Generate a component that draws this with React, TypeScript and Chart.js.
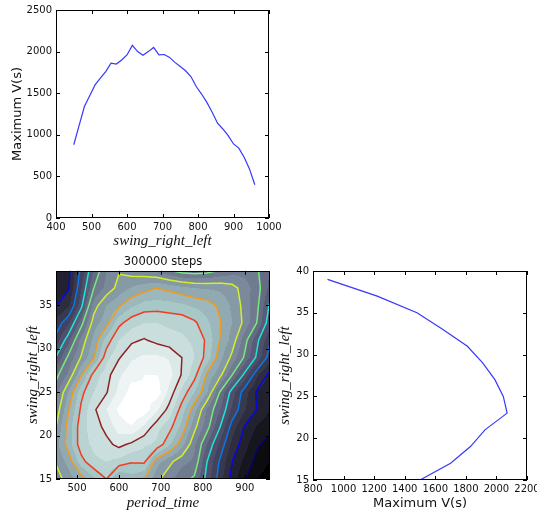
import React, { useEffect, useRef } from 'react';
import { Chart, registerables } from 'chart.js';

Chart.register(...registerables);

// ---------------- data ----------------
// top-left: maximum V(s) versus the x parameter
const topPeriod = [450, 465, 480, 495, 510, 525, 540, 555, 570, 585, 600, 615, 630, 645, 660, 675, 690, 705, 720, 735, 750, 765, 780, 795, 810, 825, 840, 855, 870, 885, 900, 915, 930, 945, 960];
const topMaxV = [880, 1110, 1340, 1470, 1600, 1680, 1760, 1860, 1850, 1900, 1960, 2075, 2000, 1955, 2000, 2050, 1960, 1965, 1930, 1870, 1820, 1770, 1700, 1580, 1490, 1390, 1270, 1140, 1070, 990, 890, 840, 730, 590, 400];

// bottom-right: maximum V(s) versus swing_right_left
const rightSwing = [15, 17, 19, 21, 23, 25, 27, 29, 31, 33, 35, 37, 39];
const rightMaxV = [1500, 1700, 1830, 1925, 2070, 2045, 1990, 1910, 1810, 1650, 1480, 1220, 895];

// bottom-left: V(s) grid (period_time columns x swing_right_left rows)
const gridPeriod = [450, 480, 510, 540, 570, 600, 630, 660, 690, 720, 750, 780, 810, 840, 870, 900, 930, 960];
const gridSwing = [15, 17, 19, 21, 23, 25, 27, 29, 31, 33, 35, 37, 39];
const z15 = [1150, 1250, 1350, 1480, 1600, 1380, 1460, 1400, 1230, 1130, 1040, 980, 760, 550, 360, 210, 100, 40];
const z17 = [1210, 1340, 1560, 1680, 1700, 1670, 1610, 1620, 1340, 1230, 1130, 1080, 800, 590, 400, 270, 160, 100];
const z19 = [1260, 1450, 1660, 1720, 1770, 1830, 1780, 1720, 1680, 1520, 1340, 1120, 900, 680, 470, 340, 215, 160];
const z21 = [1200, 1450, 1660, 1750, 1830, 1950, 1990, 1880, 1740, 1640, 1470, 1230, 1040, 810, 550, 390, 290, 230];
const z23 = [1130, 1390, 1620, 1780, 1900, 2020, 2090, 2060, 1920, 1760, 1550, 1340, 1090, 910, 680, 510, 390, 300];
const z25 = [1050, 1310, 1570, 1700, 1790, 1930, 2040, 2010, 2060, 1870, 1670, 1500, 1310, 1000, 750, 540, 380, 340];
const z27 = [970, 1120, 1390, 1640, 1760, 1880, 1970, 2000, 2000, 1940, 1790, 1640, 1380, 1240, 1000, 770, 520, 360];
const z29 = [810, 1030, 1210, 1390, 1660, 1790, 1880, 1920, 1920, 1890, 1800, 1700, 1560, 1340, 1170, 980, 770, 540];
const z31 = [640, 870, 1130, 1330, 1540, 1700, 1780, 1810, 1770, 1740, 1720, 1680, 1580, 1400, 1260, 1040, 820, 620];
const z33 = [530, 680, 960, 1250, 1360, 1570, 1660, 1700, 1700, 1680, 1670, 1620, 1520, 1410, 1300, 1170, 990, 720];
const z35 = [395, 480, 770, 1150, 1300, 1385, 1480, 1540, 1550, 1540, 1520, 1480, 1450, 1380, 1280, 1160, 1020, 780];
const z37 = [350, 390, 690, 1000, 1130, 1240, 1310, 1360, 1400, 1370, 1330, 1300, 1290, 1280, 1240, 1150, 1040, 870];
const z39 = [300, 370, 630, 910, 1100, 1190, 1150, 1120, 1080, 1010, 960, 940, 960, 1010, 1060, 1060, 1010, 900];
const zGrid = [z15, z17, z19, z21, z23, z25, z27, z29, z31, z33, z35, z37, z39];

const fillLevels = [0, 100, 200, 300, 400, 500, 600, 700, 800, 900, 1000, 1100, 1200, 1300, 1400, 1500, 1600, 1700, 1800, 1900, 2000, 2100];
const lineLevels = [200, 400, 600, 800, 1000, 1200, 1400, 1600, 1800];

// tick labels
const topXTicks = [400, 500, 600, 700, 800, 900, 1000];
const topYTicks = [0, 500, 1000, 1500, 2000, 2500];
const contourXTicks = [500, 600, 700, 800, 900];
const contourYTicks = [15, 20, 25, 30, 35];
const rightXTicks = [800, 1000, 1200, 1400, 1600, 1800, 2000, 2200];
const rightYTicks = [15, 20, 25, 30, 35, 40];

// ---------------- colour maps ----------------
type Seg = [number, number][];
const interpSeg = (seg: Seg, t: number) => {
  for (let i = 0; i < seg.length - 1; i++) {
    const [a, va] = seg[i];
    const [b, vb] = seg[i + 1];
    if (t <= b) return va + ((t - a) / (b - a)) * (vb - va);
  }
  return seg[seg.length - 1][1];
};
const boneR: Seg = [[0, 0], [0.746032, 0.652778], [1, 1]];
const boneG: Seg = [[0, 0], [0.365079, 0.319444], [0.746032, 0.777778], [1, 1]];
const boneB: Seg = [[0, 0], [0.365079, 0.444444], [1, 1]];
const jetR: Seg = [[0, 0], [0.35, 0], [0.66, 1], [0.89, 1], [1, 0.5]];
const jetG: Seg = [[0, 0], [0.125, 0], [0.375, 1], [0.64, 1], [0.91, 0], [1, 0]];
const jetB: Seg = [[0, 0.5], [0.11, 1], [0.34, 1], [0.65, 0], [1, 0]];
const cmap = (r: Seg, g: Seg, b: Seg, t: number) => [
  Math.round(255 * interpSeg(r, t)),
  Math.round(255 * interpSeg(g, t)),
  Math.round(255 * interpSeg(b, t)),
];

// ---------------- helpers ----------------
const locate = (arr: number[], v: number): [number, number] => {
  let i = 0;
  while (i < arr.length - 2 && v > arr[i + 1]) i++;
  let t = (v - arr[i]) / (arr[i + 1] - arr[i]);
  t = Math.max(0, Math.min(1, t));
  return [i, t];
};

const framePlugin = {
  id: 'frame',
  afterDraw(chart: any) {
    const { ctx, chartArea: a, scales } = chart;
    const L = 4;
    ctx.save();
    ctx.strokeStyle = '#000';
    ctx.lineWidth = 1;
    ctx.beginPath();
    const xs = scales.x;
    const ys = scales.y;
    for (const t of xs.ticks) {
      const p = Math.round(xs.getPixelForValue(t.value)) + 0.5;
      ctx.moveTo(p, a.bottom);
      ctx.lineTo(p, a.bottom - L);
      ctx.moveTo(p, a.top);
      ctx.lineTo(p, a.top + L);
    }
    for (const t of ys.ticks) {
      const p = Math.round(ys.getPixelForValue(t.value)) + 0.5;
      ctx.moveTo(a.left, p);
      ctx.lineTo(a.left + L, p);
      ctx.moveTo(a.right, p);
      ctx.lineTo(a.right - L, p);
    }
    ctx.stroke();
    ctx.strokeRect(Math.round(a.left) + 0.5, Math.round(a.top) + 0.5, Math.round(a.right - a.left) - 1, Math.round(a.bottom - a.top) - 1);
    ctx.restore();
  },
};

const contourPlugin = {
  id: 'contour',
  beforeDatasetsDraw(chart: any) {
    const { ctx, chartArea: a } = chart;
    const xs = chart.scales.x;
    const ys = chart.scales.y;
    const left = Math.round(a.left);
    const top = Math.round(a.top);
    const w = Math.round(a.right) - left;
    const h = Math.round(a.bottom) - top;
    const nb = fillLevels.length - 1;
    const bandColors = [];
    for (let k = 0; k < nb; k++) bandColors.push(cmap(boneR, boneG, boneB, k / (nb - 1)));
    const cols = [];
    for (let px = 0; px < w; px++) cols.push(locate(gridPeriod, xs.getValueForPixel(left + px + 0.5)));
    const rows = [];
    for (let py = 0; py < h; py++) rows.push(locate(gridSwing, ys.getValueForPixel(top + py + 0.5)));
    const img = ctx.createImageData(w, h);
    for (let py = 0; py < h; py++) {
      const [j, ty] = rows[py];
      const r0 = zGrid[j];
      const r1 = zGrid[j + 1];
      for (let px = 0; px < w; px++) {
        const [i, tx] = cols[px];
        const z =
          (1 - tx) * (1 - ty) * r0[i] + tx * (1 - ty) * r0[i + 1] + (1 - tx) * ty * r1[i] + tx * ty * r1[i + 1];
        let k = 0;
        while (k < nb - 1 && z >= fillLevels[k + 1]) k++;
        const c = bandColors[k];
        const o = (py * w + px) * 4;
        img.data[o] = c[0];
        img.data[o + 1] = c[1];
        img.data[o + 2] = c[2];
        img.data[o + 3] = 255;
      }
    }
    ctx.putImageData(img, left, top);

    ctx.save();
    ctx.beginPath();
    ctx.rect(a.left, a.top, a.right - a.left, a.bottom - a.top);
    ctx.clip();
    ctx.lineWidth = 1.5;
    ctx.lineJoin = 'round';
    ctx.lineCap = 'round';
    lineLevels.forEach((L, li) => {
      const c = cmap(jetR, jetG, jetB, li / (lineLevels.length - 1));
      ctx.strokeStyle = `rgba(${c[0]},${c[1]},${c[2]},0.85)`;
      ctx.beginPath();
      for (let j = 0; j < gridSwing.length - 1; j++) {
        for (let i = 0; i < gridPeriod.length - 1; i++) {
          const x0 = gridPeriod[i], x1 = gridPeriod[i + 1];
          const y0 = gridSwing[j], y1 = gridSwing[j + 1];
          const cz = [zGrid[j][i], zGrid[j][i + 1], zGrid[j + 1][i + 1], zGrid[j + 1][i]];
          const P = [[x0, y0], [x1, y0], [x1, y1], [x0, y1]];
          const cross: any[] = [null, null, null, null];
          let n = 0;
          for (let k = 0; k < 4; k++) {
            const za = cz[k], zb = cz[(k + 1) % 4];
            if ((za >= L) !== (zb >= L)) {
              const t = (L - za) / (zb - za);
              const pa = P[k], pb = P[(k + 1) % 4];
              cross[k] = [pa[0] + t * (pb[0] - pa[0]), pa[1] + t * (pb[1] - pa[1])];
              n++;
            }
          }
          const seg = (p: number[], q: number[]) => {
            ctx.moveTo(xs.getPixelForValue(p[0]), ys.getPixelForValue(p[1]));
            ctx.lineTo(xs.getPixelForValue(q[0]), ys.getPixelForValue(q[1]));
          };
          if (n === 2) {
            const e = [0, 1, 2, 3].filter((k) => cross[k]);
            seg(cross[e[0]], cross[e[1]]);
          } else if (n === 4) {
            const centerHigh = (cz[0] + cz[1] + cz[2] + cz[3]) / 4 >= L;
            for (let k = 0; k < 4; k++) {
              if ((cz[k] >= L) !== centerHigh) seg(cross[(k + 3) % 4], cross[k]);
            }
          }
        }
      }
      ctx.stroke();
    });
    ctx.restore();
  },
};

const tickFont = { family: 'DejaVu Sans', size: 10 };
const mathFont = { family: 'Liberation Serif', style: 'italic' as const, size: 15 };
const labelFont = { family: 'DejaVu Sans', size: 13 };

const axis = (
  min: number,
  max: number,
  ticks: number[],
  title: string,
  titleFont: any,
  titlePad: any,
  size: number,
  isX: boolean,
  tickPad: number
) => ({
  type: 'linear',
  min,
  max,
  grid: { display: false, drawTicks: false },
  border: { display: false },
  ticks: {
    font: tickFont,
    color: '#111',
    padding: tickPad,
    autoSkip: false,
    maxRotation: 0,
    callback: (v: any) => String(v),
  },
  afterBuildTicks: (s: any) => {
    s.ticks = ticks.map((v) => ({ value: v }));
  },
  afterFit: (s: any) => {
    if (isX) s.height = size;
    else s.width = size;
    s.paddingLeft = 0;
    s.paddingRight = 0;
    s.paddingTop = 0;
    s.paddingBottom = 0;
  },
  title: { display: true, text: title, font: titleFont, color: '#111', padding: titlePad },
});

const basePlugins = {
  legend: { display: false },
  tooltip: { enabled: false },
};

export default function App() {
  const topRef = useRef<HTMLCanvasElement>(null);
  const contourRef = useRef<HTMLCanvasElement>(null);
  const rightRef = useRef<HTMLCanvasElement>(null);

  useEffect(() => {
    const charts: Chart[] = [];
    charts.push(
      new Chart(topRef.current as HTMLCanvasElement, {
        type: 'scatter',
        data: {
          datasets: [
            {
              data: topPeriod.map((x, i) => ({ x, y: topMaxV[i] })),
              showLine: true,
              pointRadius: 0,
              borderColor: 'rgba(20,20,255,0.85)',
              borderWidth: 1.2,
            },
          ],
        },
        options: {
          responsive: false,
          animation: false,
          devicePixelRatio: 1,
          events: [],
          layout: { padding: { left: 0, top: 10, right: 21, bottom: 0 } },
          scales: {
            x: axis(400, 1000, topXTicks, 'swing_right_left', mathFont, { top: 0, bottom: 0 }, 32, true, 3),
            y: axis(0, 2500, topYTicks, 'Maximum V(s)', labelFont, { top: 10, bottom: 0 }, 56, false, 4),
          },
          plugins: basePlugins,
        } as any,
        plugins: [framePlugin],
      })
    );
    charts.push(
      new Chart(contourRef.current as HTMLCanvasElement, {
        type: 'scatter',
        data: { datasets: [] },
        options: {
          responsive: false,
          animation: false,
          devicePixelRatio: 1,
          events: [],
          layout: { padding: { left: 0, top: 0, right: 2, bottom: 0 } },
          scales: {
            x: axis(450, 960, contourXTicks, 'period_time', mathFont, { top: 0, bottom: 3 }, 36, true, 3),
            y: axis(15, 39, contourYTicks, 'swing_right_left', mathFont, { top: 24, bottom: 0 }, 56, false, 4),
          },
          plugins: {
            ...basePlugins,
            title: {
              display: true,
              text: '300000 steps',
              fullSize: false,
              color: '#111',
              font: { family: 'DejaVu Sans', size: 11.5, weight: 'normal' },
              padding: { top: 5, bottom: 2 },
            },
          },
        } as any,
        plugins: [contourPlugin, framePlugin],
      })
    );
    charts.push(
      new Chart(rightRef.current as HTMLCanvasElement, {
        type: 'scatter',
        data: {
          datasets: [
            {
              data: rightSwing.map((y, i) => ({ x: rightMaxV[i], y })),
              showLine: true,
              pointRadius: 0,
              borderColor: 'rgba(20,20,255,0.85)',
              borderWidth: 1.2,
            },
          ],
        },
        options: {
          responsive: false,
          animation: false,
          devicePixelRatio: 1,
          events: [],
          layout: { padding: { left: 0, top: 21, right: 10, bottom: 0 } },
          scales: {
            x: axis(800, 2200, rightXTicks, 'Maximum V(s)', labelFont, { top: 0, bottom: 4 }, 35, true, 3),
            y: axis(15, 40, rightYTicks, 'swing_right_left', mathFont, { top: 4, bottom: 0 }, 41, false, 4),
          },
          plugins: basePlugins,
        } as any,
        plugins: [framePlugin],
      })
    );
    return () => charts.forEach((c) => c.destroy());
  }, []);

  return (
    <div style={{ position: 'absolute', left: 0, top: 0, width: 537, height: 515, background: '#fff', overflow: 'hidden' }}>
      <canvas ref={topRef} width={290} height={250} style={{ position: 'absolute', left: 0, top: 0 }} />
      <canvas ref={contourRef} width={272} height={265} style={{ position: 'absolute', left: 0, top: 250 }} />
      <canvas ref={rightRef} width={265} height={265} style={{ position: 'absolute', left: 272, top: 250 }} />
    </div>
  );
}
